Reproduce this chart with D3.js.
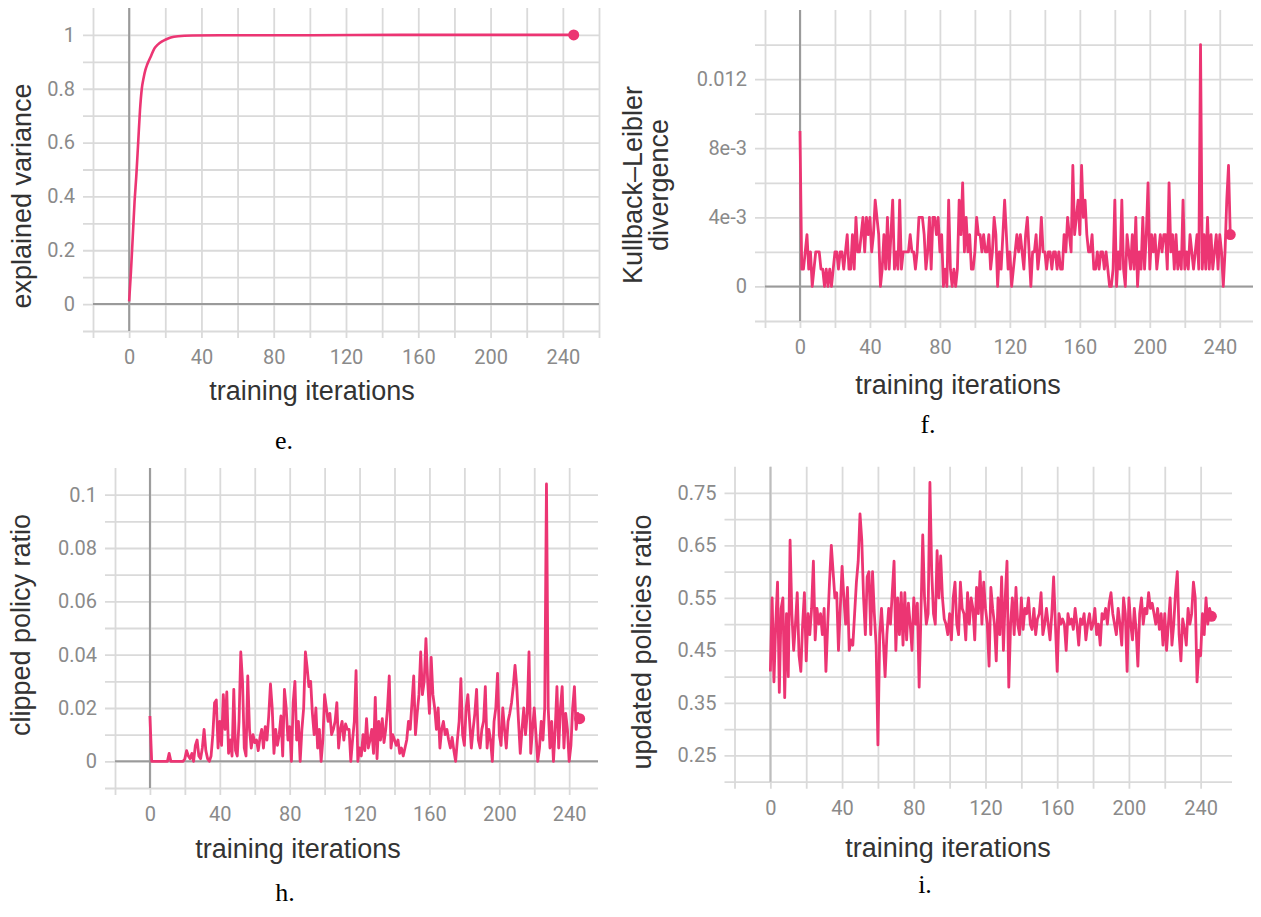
<!DOCTYPE html>
<html>
<head>
<meta charset="utf-8">
<script src="https://cdnjs.cloudflare.com/ajax/libs/d3/7.8.5/d3.min.js"></script>
<style>
	body { margin: 0; background: #fff; }
</style>
</head>
<body>
<div id="chart-area"></div>
<script>
// Shared x ticks / grid (training iterations)
var iterTicks = [0, 40, 80, 120, 160, 200, 240];
var iterGrid = [-20, 0, 20, 40, 60, 80, 100, 120, 140, 160, 180, 200, 220, 240, 260];

// e. explained variance
var evIters = [0, 1, 2, 3, 4, 5, 6, 7, 8, 9, 10, 12, 14, 16, 18, 20, 23, 27, 35, 50, 100, 150, 200, 246];
var evValues = [0.01, 0.12, 0.25, 0.38, 0.48, 0.6, 0.72, 0.8, 0.84, 0.87, 0.89, 0.92, 0.95, 0.965, 0.975, 0.982, 0.99, 0.995, 0.998, 0.999, 0.999, 1, 1, 1];
var evTicks = [0, 0.2, 0.4, 0.6, 0.8, 1];
var evTickLabels = ["0", "0.2", "0.4", "0.6", "0.8", "1"];
var evGrid = [-0.1, 0, 0.1, 0.2, 0.3, 0.4, 0.5, 0.6, 0.7, 0.8, 0.9, 1];

// f. Kullback-Leibler divergence, one value per iteration (0..246)
var klValues = [
	0.009,0.001,0.001,0.002,0.003,0.001,0.002,0,0.001,0.002,
	0.002,0.002,0.001,0.001,0,0.001,0,0.001,0,0.001,
	0.002,0.002,0.001,0.002,0.002,0.001,0.002,0.003,0.001,0.001,
	0.003,0.001,0.004,0.002,0.002,0.003,0.004,0.002,0.004,0.003,
	0.004,0.002,0.003,0.005,0.004,0.003,0,0.001,0.003,0.001,
	0.004,0.001,0.003,0.005,0.001,0.002,0.001,0.005,0.001,0.002,
	0.002,0.002,0.002,0.003,0.002,0.002,0.001,0.002,0.004,0.004,
	0.004,0.003,0.001,0.002,0.004,0.001,0.004,0.004,0.003,0.004,
	0.002,0.003,0,0.001,0,0.005,0.001,0,0.001,0,
	0.001,0.005,0.003,0.006,0.002,0.004,0.002,0.003,0.001,0.001,
	0.002,0.004,0.003,0.003,0.002,0.003,0.002,0.002,0.003,0.001,
	0.002,0.004,0.003,0,0.002,0.001,0.003,0.005,0.003,0.001,
	0.002,0,0.001,0.002,0.003,0.002,0.003,0.002,0.001,0.003,
	0.004,0.002,0,0.002,0.002,0.003,0.001,0.002,0.004,0.002,
	0.002,0.001,0.002,0.002,0.001,0.002,0.002,0.001,0.002,0.001,
	0.001,0.003,0.002,0.004,0.003,0.002,0.007,0.003,0.004,0.005,
	0.003,0.007,0.004,0.005,0.003,0.002,0.002,0.003,0.001,0.001,
	0.002,0.001,0.002,0.002,0.001,0.002,0.001,0,0,0.001,
	0.005,0,0.002,0.001,0.005,0.001,0,0.003,0.002,0.001,
	0.003,0.001,0.004,0,0.002,0.001,0.004,0.001,0.003,0.006,
	0.001,0.003,0.002,0.003,0.001,0.002,0.003,0.002,0.003,0.003,
	0.001,0.006,0.002,0.003,0.001,0.003,0.001,0.002,0.001,0.005,
	0.001,0.002,0.001,0.003,0.002,0.001,0.002,0.003,0.001,0.014,
	0.001,0.003,0.001,0.004,0.001,0.003,0.001,0.002,0.003,0.001,
	0.003,0.002,0,0.002,0.005,0.007,0.003
];
var klTicks = [0, 0.004, 0.008, 0.012];
var klTickLabels = ["0", "4e-3", "8e-3", "0.012"];
var klGrid = [-0.002, 0, 0.002, 0.004, 0.006, 0.008, 0.01, 0.012, 0.014];

// h. clipped policy ratio, one value per iteration (0..246)
var clipValues = [
	0.017,0,0,0,0,0,0,0,0,0,
	0,0.003,0,0,0,0,0,0,0,0,
	0.001,0.004,0.002,0.001,0.003,0,0.006,0.008,0.002,0.001,
	0.005,0.012,0.004,0.001,0,0.002,0.01,0.022,0.023,0.005,
	0.015,0.006,0.025,0.012,0.026,0.003,0.008,0.002,0.027,0.004,
	0.002,0.015,0.041,0.03,0.005,0.002,0.032,0.012,0.005,0.01,
	0.007,0.008,0.004,0.009,0.012,0.005,0.013,0.008,0.017,0.029,
	0.02,0.003,0.012,0.006,0.01,0.017,0.002,0.027,0.02,0.008,
	0.013,0,0.022,0.03,0.008,0.015,0,0.012,0.02,0.041,
	0.035,0.028,0.03,0.018,0.01,0.02,0.005,0.012,0,0.008,
	0.025,0.02,0.015,0.018,0.01,0.012,0.015,0.022,0.005,0.012,
	0.015,0.008,0.014,0.012,0.012,0,0.008,0.015,0.034,0,
	0.005,0.002,0.01,0.004,0.016,0.005,0.008,0.012,0.003,0.024,
	0.001,0.015,0.008,0.016,0.007,0.012,0.02,0.032,0.005,0.01,
	0.008,0.006,0.008,0.003,0.005,0.002,0.005,0.008,0.015,0.012,
	0.022,0.032,0.01,0.018,0.025,0.041,0.025,0.03,0.046,0.03,
	0.018,0.039,0.025,0.02,0.012,0.02,0.005,0.012,0.015,0.01,
	0.012,0.008,0.005,0.009,0.004,0,0.008,0.015,0.031,0.01,
	0.006,0.02,0.025,0.015,0.005,0.012,0.018,0.027,0.008,0.005,
	0.012,0.015,0.028,0.005,0.012,0.008,0,0.015,0.02,0.033,
	0.01,0.006,0.02,0.012,0.005,0.015,0.018,0.022,0.028,0.036,
	0.028,0.015,0.003,0.012,0.02,0.01,0.018,0.041,0.003,0.012,
	0.02,0.01,0,0.005,0.015,0.008,0.02,0.104,0.02,0.005,
	0.015,0,0.012,0.028,0.005,0.02,0.028,0.005,0.018,0.012,
	0,0.006,0.02,0.028,0.012,0.018,0.016
];
var clipTicks = [0, 0.02, 0.04, 0.06, 0.08, 0.1];
var clipTickLabels = ["0", "0.02", "0.04", "0.06", "0.08", "0.1"];
var clipGrid = [-0.01, 0, 0.01, 0.02, 0.03, 0.04, 0.05, 0.06, 0.07, 0.08, 0.09, 0.1];

// i. updated policies ratio, one value per iteration (0..246)
var updValues = [
	0.41,0.55,0.39,0.50,0.58,0.37,0.53,0.55,0.36,0.52,
	0.40,0.66,0.52,0.45,0.50,0.56,0.44,0.41,0.50,0.56,
	0.43,0.52,0.48,0.53,0.62,0.47,0.53,0.50,0.52,0.48,
	0.53,0.41,0.50,0.58,0.65,0.60,0.55,0.56,0.45,0.53,
	0.61,0.55,0.50,0.57,0.45,0.47,0.46,0.52,0.58,0.62,
	0.71,0.66,0.55,0.48,0.59,0.60,0.48,0.60,0.52,0.46,
	0.27,0.48,0.53,0.47,0.40,0.48,0.53,0.50,0.56,0.62,
	0.45,0.55,0.48,0.56,0.46,0.56,0.47,0.54,0.50,0.45,
	0.55,0.50,0.54,0.38,0.52,0.67,0.55,0.50,0.52,0.77,
	0.60,0.52,0.50,0.64,0.55,0.63,0.55,0.51,0.50,0.48,
	0.52,0.47,0.55,0.58,0.50,0.48,0.58,0.53,0.52,0.47,
	0.56,0.50,0.55,0.53,0.47,0.57,0.52,0.60,0.50,0.58,
	0.53,0.50,0.42,0.57,0.53,0.50,0.43,0.55,0.48,0.59,
	0.45,0.55,0.62,0.38,0.50,0.55,0.48,0.57,0.50,0.48,
	0.55,0.49,0.53,0.52,0.55,0.50,0.49,0.53,0.48,0.51,
	0.52,0.56,0.48,0.50,0.53,0.50,0.47,0.52,0.59,0.50,
	0.41,0.52,0.50,0.51,0.50,0.45,0.52,0.50,0.51,0.49,
	0.53,0.50,0.46,0.51,0.50,0.52,0.47,0.50,0.52,0.49,
	0.50,0.53,0.48,0.50,0.46,0.52,0.51,0.53,0.50,0.54,
	0.56,0.52,0.50,0.48,0.53,0.50,0.46,0.55,0.52,0.41,
	0.55,0.50,0.47,0.53,0.49,0.42,0.52,0.55,0.50,0.53,
	0.52,0.56,0.53,0.54,0.52,0.50,0.53,0.49,0.52,0.46,
	0.52,0.45,0.50,0.55,0.46,0.50,0.56,0.60,0.48,0.43,
	0.51,0.49,0.46,0.53,0.50,0.52,0.58,0.55,0.39,0.45,
	0.44,0.52,0.48,0.55,0.50,0.53,0.515
];
var updTicks = [0.25, 0.35, 0.45, 0.55, 0.65, 0.75];
var updTickLabels = ["0.25", "0.35", "0.45", "0.55", "0.65", "0.75"];
var updGrid = [0.2, 0.25, 0.3, 0.35, 0.4, 0.45, 0.5, 0.55, 0.6, 0.65, 0.7, 0.75];

// Colors & fonts
var lineColor = "#ec3573";
var gridColor = "#dadada";
var zeroColor = "#9a9a9a";
var tickFont = "Roboto, 'Liberation Sans', sans-serif";
var titleFont = "'Liberation Sans', Arial, sans-serif";
var captionFont = "'Liberation Serif', 'Times New Roman', serif";

// index -> iteration
function iters(arr) {
	return arr.map(function(d, i){ return i; });
}

// Panels layout
var panels = [
	{ xs: evIters, ys: evValues, curve: d3.curveMonotoneX, width: 2.6,
	  left: 93, right: 599, top: 8, bottom: 331,
	  xDomain: [-20, 260], yDomain: [-0.1, 1.1],
	  yGrid: evGrid, yTicks: evTicks, yLabels: evTickLabels, zeroY: true, zeroXColor: zeroColor,
	  title: ["explained variance"], titleX: [31], titleY: 196,
	  xTitleX: 312, xTitleY: 400, caption: "e.", capX: 284, capY: 449 },
	{ xs: iters(klValues), ys: klValues, curve: d3.curveLinear, width: 2.8,
	  left: 765, right: 1253, top: 10, bottom: 321,
	  xDomain: [-20, 259], yDomain: [-0.002, 0.016],
	  yGrid: klGrid, yTicks: klTicks, yLabels: klTickLabels, zeroY: true, zeroXColor: zeroColor,
	  title: ["Kullback\u2013Leibler", "divergence"], titleX: [642, 668], titleY: 185,
	  xTitleX: 958, xTitleY: 394, caption: "f.", capX: 928, capY: 433 },
	{ xs: iters(clipValues), ys: clipValues, curve: d3.curveLinear, width: 2.8,
	  left: 115, right: 598, top: 468, bottom: 788,
	  xDomain: [-20, 256.5], yDomain: [-0.01, 0.11],
	  yGrid: clipGrid, yTicks: clipTicks, yLabels: clipTickLabels, zeroY: true, zeroXColor: zeroColor,
	  title: ["clipped policy ratio"], titleX: [30], titleY: 625,
	  xTitleX: 298, xTitleY: 858, caption: "h.", capX: 285, capY: 901 },
	{ xs: iters(updValues), ys: updValues, curve: d3.curveLinear, width: 2.8,
	  left: 734.5, right: 1232, top: 466.7, bottom: 781.7,
	  xDomain: [-20, 257.5], yDomain: [0.2, 0.8],
	  yGrid: updGrid, yTicks: updTicks, yLabels: updTickLabels, zeroY: false, zeroXColor: "#bdbdbd",
	  title: ["updated policies ratio"], titleX: [651], titleY: 642,
	  xTitleX: 948, xTitleY: 857, caption: "i.", capX: 925, capY: 893 }
];

// Canvas
var canvas = d3.select("#chart-area")
	.append("svg")
	.attr("width", 1261)
	.attr("height", 917);

panels.forEach(drawPanel);

function drawPanel(p) {
	var x = d3.scaleLinear().domain(p.xDomain).range([p.left, p.right]);
	var y = d3.scaleLinear().domain(p.yDomain).range([p.bottom, p.top]);
	var g = canvas.append("g");

	// horizontal grid (sticks out a little on the left)
	var hGrid = g.append("g")
		.attr("transform", "translate(" + (p.left - 10) + ",0)")
		.call(d3.axisLeft(y).tickValues(p.yGrid).tickSizeInner(-(p.right - p.left + 10)).tickSizeOuter(0).tickFormat(""));
	hGrid.select(".domain").remove();
	hGrid.selectAll("line").attr("stroke", gridColor).attr("stroke-width", 1.8);

	// vertical grid (sticks out a little below)
	var xGrid = iterGrid.filter(function(v){ return v >= p.xDomain[0] && v <= p.xDomain[1]; });
	var vGrid = g.append("g")
		.attr("transform", "translate(0," + (p.bottom + 7) + ")")
		.call(d3.axisBottom(x).tickValues(xGrid).tickSizeInner(-(p.bottom - p.top + 7)).tickSizeOuter(0).tickFormat(""));
	vGrid.select(".domain").remove();
	vGrid.selectAll("line").attr("stroke", gridColor).attr("stroke-width", 1.8);

	// zero lines
	if (p.zeroY) {
		g.append("line")
			.attr("x1", p.left).attr("x2", p.right)
			.attr("y1", y(0)).attr("y2", y(0))
			.attr("stroke", zeroColor).attr("stroke-width", 2);
	}
	g.append("line")
		.attr("x1", x(0)).attr("x2", x(0))
		.attr("y1", p.top).attr("y2", p.bottom)
		.attr("stroke", p.zeroXColor).attr("stroke-width", 2);

	// y tick labels
	var yAxis = g.append("g")
		.attr("transform", "translate(" + (p.left - 10) + ",0)")
		.call(d3.axisLeft(y).tickValues(p.yTicks).tickSize(0).tickPadding(8)
			.tickFormat(function(d, i){ return p.yLabels[i]; }));
	yAxis.select(".domain").remove();
	yAxis.selectAll("text")
		.attr("font-family", tickFont)
		.attr("font-size", "20px")
		.attr("fill", "#8a8a8a");

	// x tick labels
	var xAxis = g.append("g")
		.attr("transform", "translate(0," + p.bottom + ")")
		.call(d3.axisBottom(x).tickValues(iterTicks).tickSize(0).tickPadding(19));
	xAxis.select(".domain").remove();
	xAxis.selectAll("text")
		.attr("font-family", tickFont)
		.attr("font-size", "20px")
		.attr("fill", "#8a8a8a");

	// series line
	var pts = p.xs.map(function(v, i){ return [v, p.ys[i]]; });
	var line = d3.line()
		.x(function(d){ return x(d[0]); })
		.y(function(d){ return y(d[1]); })
		.curve(p.curve);
	g.append("path")
		.datum(pts)
		.attr("d", line)
		.attr("fill", "none")
		.attr("stroke", lineColor)
		.attr("stroke-width", p.width)
		.attr("stroke-linejoin", "round");

	// last point dot
	var last = pts[pts.length - 1];
	g.append("circle")
		.attr("cx", x(last[0]))
		.attr("cy", y(last[1]))
		.attr("r", 5.5)
		.attr("fill", lineColor);

	// y title (rotated, one or two lines)
	p.title.forEach(function(t, i){
		g.append("text")
			.attr("transform", "translate(" + p.titleX[i] + "," + p.titleY + ") rotate(-90)")
			.attr("text-anchor", "middle")
			.attr("font-family", titleFont)
			.attr("font-size", "27px")
			.attr("fill", "#333")
			.text(t);
	});

	// x title
	g.append("text")
		.attr("x", p.xTitleX)
		.attr("y", p.xTitleY)
		.attr("text-anchor", "middle")
		.attr("font-family", titleFont)
		.attr("font-size", "27px")
		.attr("fill", "#333")
		.text("training iterations");

	// caption
	g.append("text")
		.attr("x", p.capX)
		.attr("y", p.capY)
		.attr("text-anchor", "middle")
		.attr("font-family", captionFont)
		.attr("font-size", "26px")
		.attr("fill", "#000")
		.text(p.caption);
}
</script>
</body>
</html>
